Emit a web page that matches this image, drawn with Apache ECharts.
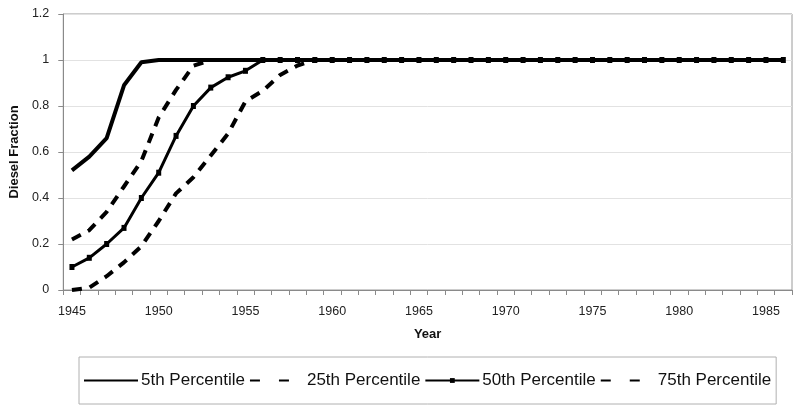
<!DOCTYPE html>
<html>
<head>
<meta charset="utf-8">
<script src="https://cdn.jsdelivr.net/npm/echarts@6/dist/echarts.min.js"></script>
<style>
html,body{margin:0;padding:0;background:#fff;}
#chart{width:800px;height:416px;}
</style>
</head>
<body>
<div id="chart"></div>
<script>
const years = [];
for (let y = 1945; y <= 1986; y++) years.push(String(y));

const p5  = [0.52,0.58,0.66,0.89,0.99,1,1,1,1,1,1,1,1,1,1,1,1,1,1,1,1,1,1,1,1,1,1,1,1,1,1,1,1,1,1,1,1,1,1,1,1,1];
const p25 = [0.22,0.26,0.34,0.45,0.56,0.75,0.87,0.975,1,1,1,1,1,1,1,1,1,1,1,1,1,1,1,1,1,1,1,1,1,1,1,1,1,1,1,1,1,1,1,1,1,1];
const p50 = [0.10,0.14,0.20,0.27,0.40,0.51,0.67,0.80,0.88,0.925,0.953,1,1,1,1,1,1,1,1,1,1,1,1,1,1,1,1,1,1,1,1,1,1,1,1,1,1,1,1,1,1,1];
const p75 = [0,0.01,0.06,0.12,0.19,0.30,0.42,0.49,0.585,0.68,0.82,0.866,0.935,0.976,1,1,1,1,1,1,1,1,1,1,1,1,1,1,1,1,1,1,1,1,1,1,1,1,1,1,1,1];

const names = ['5th Percentile','25th Percentile','50th Percentile','75th Percentile'];
const yTicks = [0, 0.2, 0.4, 0.6, 0.8, 1, 1.2];

const chart = echarts.init(document.getElementById('chart'), null, {renderer:'canvas'});
const font = 'Liberation Sans, Arial, sans-serif';
const dash = [10, 8];

chart.setOption({
  animation: false,
  backgroundColor: '#fff',
  grid: {left: 61, right: 8, top: 14, bottom: 126, show: true, borderColor: '#9a9a9a', borderWidth: 1, backgroundColor: 'transparent'},
  legend: {
    left: 79, top: 357,
    padding: [15, 5, 15, 4],
    borderColor: '#b0b0b0', borderWidth: 1,
    itemWidth: 54, itemHeight: 6, itemGap: 4,
    textStyle: {fontFamily: font, fontSize: 17, color: '#111', padding: [0,0,0,-2]},
    data: [
      {name: names[0], itemStyle: {opacity: 0}},
      {name: names[1], itemStyle: {opacity: 0}, lineStyle: {type: [10, 19]}},
      {name: names[2]},
      {name: names[3], itemStyle: {opacity: 0}, lineStyle: {type: [10, 19]}}
    ]
  },
  xAxis: {
    type: 'category', data: years, boundaryGap: true,
    name: 'Year', nameLocation: 'middle', nameGap: 38,
    nameTextStyle: {fontFamily: font, fontSize: 13, fontWeight: 'bold', color: '#111'},
    axisLine: {lineStyle: {color: '#8a8a8a', width: 1}},
    axisTick: {show: true, interval: 0, length: 5, lineStyle: {color: '#8a8a8a'}},
    axisLabel: {interval: 4, margin: 15, fontFamily: font, fontSize: 12.5, color: '#222'},
    splitLine: {show: false}
  },
  yAxis: {
    type: 'value', min: 0, max: 1.2, interval: 0.2,
    name: 'Diesel Fraction', nameLocation: 'middle', nameGap: 33, nameRotate: 90,
    nameTextStyle: {fontFamily: font, fontSize: 13, fontWeight: 'bold', color: '#111'},
    axisLine: {show: true, lineStyle: {color: '#8a8a8a', width: 1}},
    axisTick: {show: true, length: 5, lineStyle: {color: '#8a8a8a'}},
    axisLabel: {margin: 14, fontFamily: font, fontSize: 12.5, color: '#222',
      formatter: v => String(yTicks.find(t => Math.abs(t - v) < 1e-9) ?? v)},
    splitLine: {show: true, lineStyle: {color: '#e2e2e2', width: 1}}
  },
  series: [
    {name: names[0], type: 'line', data: p5, symbol: 'none', lineStyle: {color: '#000', width: 4}, itemStyle: {color: '#000'}, z: 3},
    {name: names[1], type: 'line', data: p25, symbol: 'none', lineStyle: {color: '#000', width: 4, type: dash}, itemStyle: {color: '#000'}, z: 2},
    {name: names[2], type: 'line', data: p50, symbol: 'rect', symbolSize: [5, 6], showSymbol: true, lineStyle: {color: '#000', width: 3}, itemStyle: {color: '#000'}, z: 4},
    {name: names[3], type: 'line', data: p75, symbol: 'none', lineStyle: {color: '#000', width: 4, type: dash}, itemStyle: {color: '#000'}, z: 2}
  ]
});
</script>
</body>
</html>
